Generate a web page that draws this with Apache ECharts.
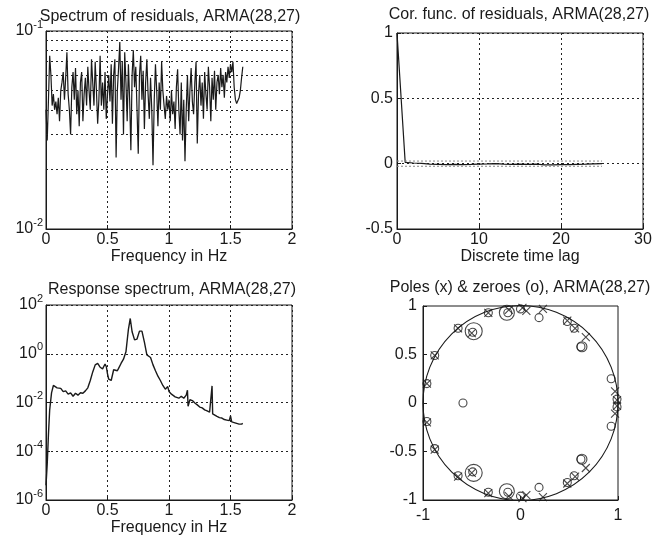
<!DOCTYPE html>
<html><head><meta charset="utf-8">
<script src="https://cdn.jsdelivr.net/npm/echarts@6/dist/echarts.min.js"></script>
<style>html,body{margin:0;padding:0;background:#fff}#c{width:669px;height:544px}</style>
</head><body><div id="c"></div>
<script>
// ---------- DATA ----------
const titles = ['Spectrum of residuals, ARMA(28,27)', 'Cor. func. of residuals, ARMA(28,27)',
                'Response spectrum, ARMA(28,27)', 'Poles (x) & zeroes (o), ARMA(28,27)'];
const xNames = ['Frequency in Hz', 'Discrete time lag', 'Frequency in Hz', ''];

// residual spectrum, sampled every 0.01 Hz from 0 to 1.6 Hz
const resStep = 0.01;
const resSpectrum = [
0.040,0.028,0.045,0.075,0.060,0.042,0.048,0.040,0.044,0.038,
0.046,0.035,0.050,0.055,0.062,0.045,0.058,0.078,0.048,0.040,
0.030,0.052,0.062,0.045,0.065,0.038,0.050,0.033,0.055,0.062,
0.035,0.048,0.058,0.042,0.066,0.050,0.040,0.072,0.055,0.042,
0.070,0.050,0.034,0.045,0.075,0.042,0.055,0.040,0.062,0.036,
0.048,0.060,0.044,0.068,0.034,0.060,0.072,0.023,0.050,0.065,
0.088,0.045,0.070,0.030,0.078,0.055,0.035,0.068,0.045,0.025,
0.060,0.080,0.052,0.066,0.040,0.024,0.060,0.075,0.045,0.063,
0.032,0.055,0.072,0.048,0.036,0.058,0.040,0.021,0.045,0.068,
0.050,0.033,0.055,0.040,0.070,0.050,0.042,0.036,0.047,0.040,
0.045,0.035,0.050,0.038,0.044,0.032,0.052,0.064,0.040,0.030,
0.055,0.028,0.045,0.022,0.040,0.060,0.035,0.050,0.065,0.044,
0.038,0.055,0.070,0.027,0.048,0.060,0.042,0.055,0.036,0.062,
0.048,0.040,0.066,0.052,0.035,0.058,0.045,0.063,0.040,0.055,
0.060,0.048,0.065,0.052,0.060,0.046,0.062,0.055,0.066,0.058,
0.068,0.062,0.070,0.052,0.045,0.043,0.044,0.046,0.050,0.058,
0.066];
const resMinorGrid = [0.02,0.03,0.04,0.05,0.06,0.07,0.08,0.09];

// correlation function of residuals
const corrLags = [0,1,2,3,4,5,6,7,8,9,10,11,12,13,14,15,16,17,18,19,20,21,22,23,24,25];
const corrVals = [1.0,0.010,0.005,0.002,-0.004,-0.006,-0.008,-0.005,-0.007,-0.006,-0.004,-0.002,0.001,
                  -0.003,-0.005,-0.004,-0.006,-0.003,-0.009,-0.010,-0.008,-0.007,-0.005,-0.004,-0.002,0.0];
const confBand = [0.02, -0.02];
const confLagRange = [0, 25];

// response spectrum
const respFreq = [0.000,0.010,0.020,0.030,0.045,0.060,0.075,0.090,0.100,0.120,0.140,0.160,0.180,0.200,0.220,
0.240,0.260,0.280,0.300,0.320,0.340,0.360,0.380,0.400,0.420,0.440,0.460,0.480,0.490,0.500,0.510,0.530,0.550,
0.560,0.580,0.590,0.610,0.630,0.650,0.660,0.670,0.685,0.700,0.720,0.740,0.760,0.780,0.800,0.820,0.830,0.850,
0.870,0.890,0.910,0.930,0.950,0.970,0.990,1.000,1.020,1.050,1.080,1.100,1.120,1.140,1.150,1.155,1.170,1.190,
1.210,1.230,1.250,1.270,1.290,1.310,1.330,1.345,1.350,1.355,1.370,1.390,1.410,1.430,1.450,1.470,1.490,1.500,
1.510,1.530,1.550,1.570,1.590,1.600];
const respVals = [4e-6,3e-5,5e-4,5e-3,0.025,0.050,0.045,0.040,0.036,0.038,0.028,0.030,0.022,0.025,0.018,
0.024,0.020,0.025,0.024,0.030,0.040,0.080,0.18,0.35,0.40,0.28,0.24,0.38,0.30,0.15,0.09,0.08,0.22,
0.26,0.20,0.25,0.40,0.60,1.2,3.5,10,28,8,3.7,4.0,8.5,8.5,3.0,0.9,0.75,0.70,
0.35,0.20,0.12,0.08,0.05,0.035,0.045,0.028,0.022,0.017,0.015,0.018,0.015,0.020,0.032,0.007,0.013,0.012,
0.0095,0.0080,0.0065,0.0060,0.0050,0.0045,0.0040,0.0037,0.048,0.0034,0.0030,0.0027,0.0024,0.0023,0.0020,0.0019,0.0018,0.0028,
0.0016,0.0015,0.0014,0.0013,0.0013,0.0014];

// poles and zeros
const polesRe = [-0.96,-0.96,-0.88,-0.88,-0.64,-0.64,-0.50,-0.50,-0.33,-0.33,-0.12,-0.12,0.02,0.02,0.06,0.06,0.23,0.23,0.48,0.48,0.56,0.56,0.67,0.67,0.97,0.97,0.99,0.99];
const polesIm = [0.20,-0.20,0.49,-0.48,0.77,-0.76,0.72,-0.72,0.93,-0.93,0.96,-0.96,0.98,-0.98,0.95,-0.95,0.97,-0.97,0.85,-0.83,0.77,-0.76,0.68,-0.67,0.12,-0.11,0.03,-0.03];
const zerosRe = [-0.96,-0.96,-0.88,-0.88,-0.64,-0.64,-0.49,-0.49,-0.33,-0.33,-0.13,-0.13,0.00,0.00,0.19,0.19,0.48,0.48,0.55,0.55,0.62,0.62,0.93,0.93,0.99,0.99,-0.59];
const zerosIm = [0.20,-0.19,0.49,-0.47,0.77,-0.75,0.73,-0.71,0.93,-0.92,0.93,-0.92,0.97,-0.96,0.88,-0.87,0.84,-0.82,0.77,-0.75,0.58,-0.58,0.25,-0.24,0.04,-0.04,0.00];
const ringsRe = [-0.48,-0.48,-0.14,-0.14,0.63,0.63];
const ringsIm = [0.74,-0.72,0.93,-0.91,0.58,-0.58];
const ringsSize = [17,17,15,15,10,10];
const unitCircle = {re:0, im:0, radius:1};

// ---------- CHART ----------
const FONT = 'Liberation Sans, Arial, sans-serif';
const INK = '#1a1a1a';
const chart = echarts.init(document.getElementById('c'), null, {renderer:'canvas'});

const grids = [
  {left:46, top:31, width:246, height:198},
  {left:397, top:33, width:246, height:196},
  {left:46, top:305, width:246, height:195},
  {left:423, top:306, width:195, height:194}
].map(g => Object.assign({show:true, borderColor:INK, borderWidth:1, backgroundColor:'#fff', containLabel:false}, g));

const gridLine = {show:true, lineStyle:{color:'#222', type:[2,3], width:1}};
const tick = {show:true, inside:true, length:4, lineStyle:{color:INK}};
const axisLine = {show:true, onZero:false, lineStyle:{color:INK}};
const lbl = {color:INK, fontFamily:FONT, fontSize:16};
const logFmt = v => '{b|10}{s|' + Math.round(Math.log10(v)) + '}';
const logRich = {
  b:{fontSize:16, fontFamily:FONT, color:INK, verticalAlign:'bottom', lineHeight:16},
  s:{fontSize:11, fontFamily:FONT, color:INK, verticalAlign:'bottom', lineHeight:11, padding:[0,0,9,0]}
};

const xAxes = [
  {gridIndex:0, type:'value', min:0, max:2, interval:0.5, name:xNames[0]},
  {gridIndex:1, type:'value', min:0, max:30, interval:10, name:xNames[1]},
  {gridIndex:2, type:'value', min:0, max:2, interval:0.5, name:xNames[2]},
  {gridIndex:3, type:'value', min:-1, max:1, interval:1, splitLine:{show:false}, axisLabel:Object.assign({margin:8}, lbl)}
].map(a => Object.assign({nameLocation:'middle', nameGap:20, nameTextStyle:{color:INK, fontFamily:FONT, fontSize:16},
   axisLine, axisTick:tick, splitLine:gridLine, axisLabel:Object.assign({margin:3, formatter: v => String(v)}, lbl)}, a));

const yAxes = [
  {gridIndex:0, type:'log', logBase:10, min:0.01, max:0.1,
   axisLabel:Object.assign({margin:3, formatter:logFmt, rich:logRich}, lbl)},
  {gridIndex:1, type:'value', min:-0.5, max:1, interval:0.5, axisLabel:Object.assign({margin:4}, lbl)},
  {gridIndex:2, type:'log', logBase:10, min:1e-6, max:1e2, interval:2,
   axisLabel:Object.assign({margin:3, formatter:logFmt, rich:logRich}, lbl)},
  {gridIndex:3, type:'value', min:-1, max:1, interval:0.5, splitLine:{show:false}, axisLabel:Object.assign({margin:6}, lbl)}
].map(a => Object.assign({axisLine, axisTick:tick, splitLine:gridLine}, a));

const lineStyle = {color:INK, width:1.2};
const markStyle = {color:'rgba(0,0,0,0)', borderColor:INK, borderWidth:1.1};
const series = [
  {type:'line', xAxisIndex:0, yAxisIndex:0, showSymbol:false, symbol:'none', lineStyle,
   data: resSpectrum.map((v,i) => [i*resStep, v]),
   markLine:{silent:true, symbol:'none', label:{show:false}, animation:false,
     lineStyle:{color:'#222', type:[2,3], width:1}, data: resMinorGrid.map(v => ({yAxis:v}))}},
  {type:'line', xAxisIndex:1, yAxisIndex:1, symbol:'none', lineStyle,
   data: corrLags.map((l,i) => [l, corrVals[i]])},
  {type:'line', xAxisIndex:1, yAxisIndex:1, symbol:'none', lineStyle:{color:'#888', width:1, type:[2,2]},
   data: confLagRange.map(l => [l, confBand[0]])},
  {type:'line', xAxisIndex:1, yAxisIndex:1, symbol:'none', lineStyle:{color:'#888', width:1, type:[2,2]},
   data: confLagRange.map(l => [l, confBand[1]])},
  {type:'line', xAxisIndex:2, yAxisIndex:2, symbol:'none', lineStyle:{color:INK, width:1.4},
   data: respFreq.map((f,i) => [f, respVals[i]])},
  {type:'custom', xAxisIndex:3, yAxisIndex:3, silent:true, clip:false,
   data:[[unitCircle.re, unitCircle.im, unitCircle.radius]],
   renderItem:(p, api) => {
     const c = api.coord([api.value(0), api.value(1)]);
     const e = api.coord([api.value(0)+api.value(2), api.value(1)]);
     return {type:'circle', shape:{cx:c[0], cy:c[1], r:e[0]-c[0]}, style:{fill:'none', stroke:INK, lineWidth:1.1}};
   }},
  {type:'scatter', xAxisIndex:3, yAxisIndex:3, symbol:'path://M0,0L10,10M10,0L0,10', symbolSize:8,
   itemStyle:markStyle, data: polesRe.map((r,i) => [r, polesIm[i]])},
  {type:'scatter', xAxisIndex:3, yAxisIndex:3, symbol:'circle', symbolSize:8,
   itemStyle:markStyle, data: zerosRe.map((r,i) => [r, zerosIm[i]])},
  {type:'scatter', xAxisIndex:3, yAxisIndex:3, symbol:'circle',
   symbolSize:(v, p) => ringsSize[p.dataIndex],
   itemStyle:markStyle, data: ringsRe.map((r,i) => [r, ringsIm[i]])}
];

const titlePos = [[170,17],[519,15],[172,290],[520,288]];
const graphic = titles.map((t,i) => ({type:'text', x:titlePos[i][0], y:titlePos[i][1], silent:true,
  style:{text:t, textAlign:'center', textVerticalAlign:'middle', font:'16px ' + FONT, fill:INK}}));

chart.setOption({animation:false, backgroundColor:'#fff', grid:grids, xAxis:xAxes, yAxis:yAxes, series, graphic});
</script></body></html>
